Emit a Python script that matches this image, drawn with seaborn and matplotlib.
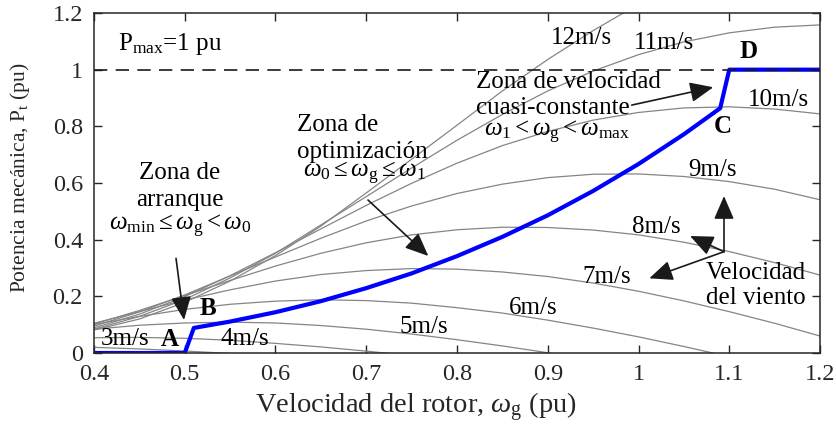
"""
Curvas de potencia mecánica de la turbina vs velocidad del rotor,
con la trayectoria de seguimiento de máxima potencia (A-B-C-D).
"""

import numpy as np
import pandas as pd
import matplotlib
matplotlib.use("Agg")
import matplotlib.pyplot as plt
import seaborn as sns

nan = np.nan

# ──────────────────────────────────────────────
# Datos
# ──────────────────────────────────────────────

omega = [0.40, 0.45, 0.50, 0.55, 0.60, 0.65, 0.70, 0.75, 0.80,
         0.85, 0.90, 0.95, 1.00, 1.05, 1.10, 1.15, 1.20]

p3 = [0.020, 0.0145, 0.0071, -0.0016] + [nan] * 13
p4 = [0.054, 0.055, 0.052, 0.045, 0.034, 0.0215, 0.0067, -0.0095] + [nan] * 9
p5 = [0.084, 0.098, 0.106, 0.109, 0.106, 0.097, 0.084, 0.067, 0.047,
      0.025, 0.001, -0.027] + [nan] * 5
p6 = [0.101, 0.129, 0.154, 0.172, 0.183, 0.188, 0.185, 0.176, 0.160,
      0.141, 0.116, 0.088, 0.057, 0.023, -0.013, nan, nan]
p7 = [0.105, 0.146, 0.187, 0.223, 0.254, 0.277, 0.291, 0.298, 0.296,
      0.286, 0.270, 0.247, 0.218, 0.184, 0.146, 0.105, 0.060]
p8 = [0.102, 0.150, 0.203, 0.256, 0.307, 0.352, 0.389, 0.417, 0.435,
      0.444, 0.443, 0.434, 0.417, 0.391, 0.358, 0.319, 0.275]
p9 = [0.095, 0.145, 0.205, 0.272, 0.339, 0.405, 0.466, 0.519, 0.563,
      0.596, 0.619, 0.631, 0.632, 0.623, 0.605, 0.578, 0.541]
p10 = [0.089, 0.137, 0.199, 0.273, 0.354, 0.438, 0.521, 0.599, 0.670,
       0.732, 0.782, 0.822, 0.849, 0.865, 0.869, 0.861, 0.844]
p11 = [0.084, 0.129, 0.189, 0.265, 0.352, 0.452, 0.552, 0.653, 0.751,
       0.842, 0.925, 0.995, 1.053, 1.098, 1.130, 1.150, 1.158]
p12 = [0.081, 0.120, 0.179, 0.254, 0.344, 0.448, 0.565, 0.684, 0.804,
       0.925, 1.036, 1.138, 1.231] + [nan] * 4

wind_speeds = [3, 4, 5, 6, 7, 8, 9, 10, 11, 12]
curves = [p3, p4, p5, p6, p7, p8, p9, p10, p11, p12]

# trayectoria de control (A -> B -> C -> D)
track_w = [0.40, 0.50, 0.51, 0.55, 0.60, 0.65, 0.70, 0.75, 0.80, 0.85,
           0.90, 0.95, 1.00, 1.05, 1.09, 1.10, 1.20]
track_p = [0.0, 0.0, 0.0885, 0.111, 0.144, 0.183, 0.229, 0.281, 0.342,
           0.410, 0.486, 0.572, 0.667, 0.772, 0.864, 1.0, 1.0]

p_max = 1.0

xticks = [0.4, 0.5, 0.6, 0.7, 0.8, 0.9, 1.0, 1.1, 1.2]
xtick_labels = ["0.4", "0.5", "0.6", "0.7", "0.8", "0.9", "1", "1.1", "1.2"]
yticks = [0, 0.2, 0.4, 0.6, 0.8, 1.0, 1.2]
ytick_labels = ["0", "0.2", "0.4", "0.6", "0.8", "1", "1.2"]

# ──────────────────────────────────────────────
# Estilo
# ──────────────────────────────────────────────

sns.set_theme(style="ticks")
plt.rcParams["font.family"] = ["Liberation Serif", "DejaVu Serif"]
plt.rcParams["mathtext.fontset"] = "custom"
plt.rcParams["mathtext.rm"] = "Liberation Serif"
plt.rcParams["mathtext.it"] = "Liberation Serif:italic"
plt.rcParams["mathtext.bf"] = "Liberation Serif:bold"

FS = 18
TXT = "#000000"
AX = "#262626"

df = pd.DataFrame({
    "omega": np.tile(omega, len(curves)),
    "P": np.concatenate(curves),
    "v": np.repeat(wind_speeds, len(omega)),
}).dropna()

fig, ax = plt.subplots(figsize=(8.37, 4.28), dpi=100)
fig.subplots_adjust(left=0.1123, right=0.9797, bottom=0.1752, top=0.9696)

sns.lineplot(data=df, x="omega", y="P", hue="v", units="v", estimator=None,
             palette=["#858585"] * len(wind_speeds), linewidth=0.9,
             legend=False, sort=False, ax=ax, zorder=2)

sns.lineplot(x=track_w, y=track_p, color="#0000ff", linewidth=3.0,
             estimator=None, sort=False, ax=ax, zorder=3)

ax.axhline(p_max, color="k", linewidth=1.2, dashes=(8, 5), zorder=4)

ax.set_xlim(0.4, 1.2)
ax.set_ylim(0, 1.2)
ax.set_xticks(xticks)
ax.set_xticklabels(xtick_labels)
ax.set_yticks(yticks)
ax.set_yticklabels(ytick_labels)
ax.tick_params(direction="in", top=True, right=True, length=6, width=1,
               labelsize=17.5, pad=8, colors=AX)
for s in ax.spines.values():
    s.set_linewidth(1.1)
    s.set_color(AX)
    s.set_zorder(5)

ax.set_xlabel(r"Velocidad del rotor, $\omega_{\mathrm{g}}$ (pu)", fontsize=20.5, color=AX)
ax.set_ylabel(r"Potencia mecánica, P$_{\mathrm{t}}$ (pu)", fontsize=15.5, color=AX)
ax.xaxis.set_label_coords(0.444, -0.11)
ax.yaxis.set_label_coords(-0.086, 0.515)

# ──────────────────────────────────────────────
# Etiquetas de viento y puntos
# ──────────────────────────────────────────────

speed_labels = [("3m/s", 0.434, 0.048), ("4m/s", 0.566, 0.048),
                ("5m/s", 0.763, 0.091), ("6m/s", 0.884, 0.158),
                ("7m/s", 0.965, 0.267), ("8m/s", 1.020, 0.446),
                ("9m/s", 1.082, 0.646), ("10m/s", 1.154, 0.893),
                ("11m/s", 1.028, 1.094), ("12m/s", 0.937, 1.112)]
for txt, x, y in speed_labels:
    ax.text(x, y, txt, fontsize=FS, ha="center", va="center", color=TXT, zorder=6)

for txt, x, y in [("A", 0.483, 0.049), ("B", 0.526, 0.158),
                  ("C", 1.093, 0.798), ("D", 1.121, 1.063)]:
    ax.text(x, y, txt, fontsize=FS, fontweight="bold", ha="center", va="center",
            color=TXT, zorder=6)

ax.text(0.4264, 1.069, r"P$_{\mathrm{max}}$=1 pu", fontsize=FS, ha="left",
        va="baseline", color=TXT)

# zona de arranque
ax.text(0.4948, 0.634, "Zona de", fontsize=FS, ha="center", va="center", color=TXT)
ax.text(0.4948, 0.540, "arranque", fontsize=FS, ha="center", va="center", color=TXT)
ax.text(0.4948, 0.445,
        r"$\omega_{\mathrm{min}}\leq\omega_{\mathrm{g}}<\omega_{\mathrm{0}}$",
        fontsize=FS, ha="center", va="center", color=TXT)

# zona de optimización
ax.text(0.6237, 0.805, "Zona de", fontsize=FS, ha="left", va="center", color=TXT)
ax.text(0.6237, 0.711, "optimización", fontsize=FS, ha="left", va="center", color=TXT)
ax.text(0.630, 0.632,
        r"$\omega_{\mathrm{0}}\leq\omega_{\mathrm{g}}\leq\omega_{\mathrm{1}}$",
        fontsize=FS, ha="left", va="center", color=TXT)

# zona de velocidad cuasi-constante
ax.text(0.8209, 0.958, "Zona de velocidad", fontsize=FS, ha="left", va="center", color=TXT)
ax.text(0.8209, 0.864, "cuasi-constante", fontsize=FS, ha="left", va="center", color=TXT)
ax.text(0.830, 0.780,
        r"$\omega_{\mathrm{1}}<\omega_{\mathrm{g}}<\omega_{\mathrm{max}}$",
        fontsize=FS, ha="left", va="center", color=TXT)

# velocidad del viento
ax.text(1.0744, 0.281, "Velocidad", fontsize=FS, ha="left", va="center", color=TXT)
ax.text(1.0744, 0.193, "del viento", fontsize=FS, ha="left", va="center", color=TXT)

arrow_kw = dict(arrowstyle="-|>,head_length=0.65,head_width=0.28", color="k",
                lw=1.2, mutation_scale=22, shrinkA=0, shrinkB=0)
arrows = [((0.4904, 0.334), (0.4992, 0.1165)),
          ((0.7019, 0.540), (0.7684, 0.3424)),
          ((0.9925, 0.875), (1.0824, 0.938)),
          ((1.0942, 0.3576), (1.0942, 0.554)),
          ((1.0942, 0.3576), (1.0568, 0.413)),
          ((1.0942, 0.3576), (1.0119, 0.2636))]
for start, tip in arrows:
    ax.annotate("", xy=tip, xytext=start, arrowprops=arrow_kw, zorder=6)

fig.savefig("out.png", dpi=100)
